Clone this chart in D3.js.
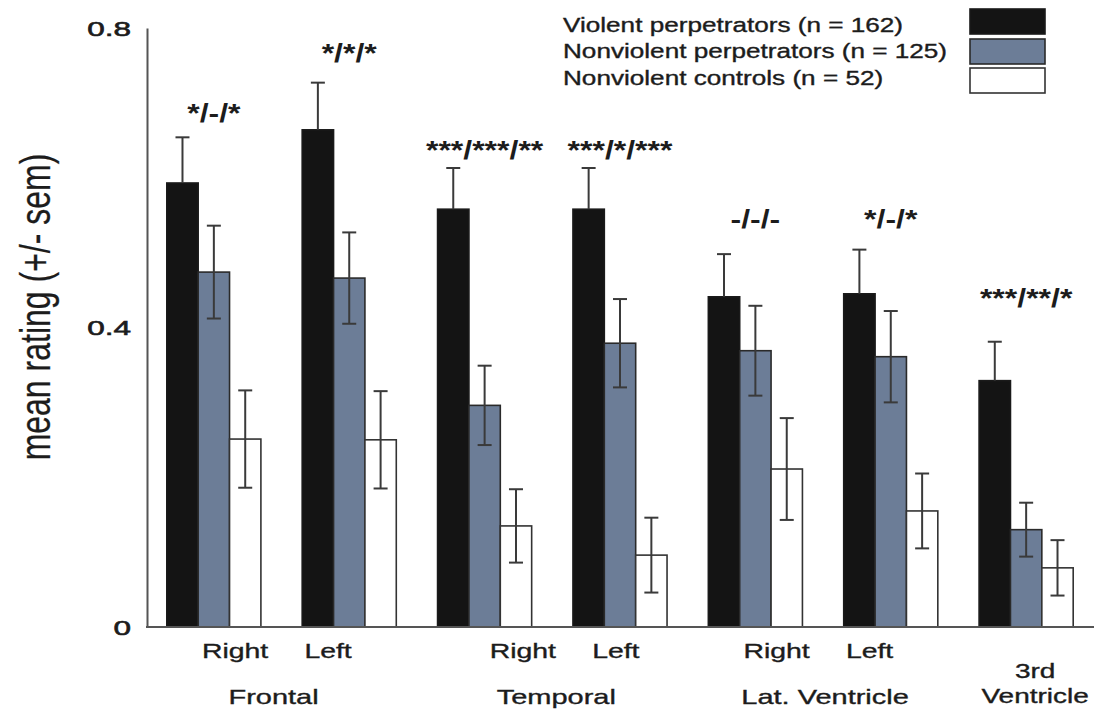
<!DOCTYPE html>
<html><head><meta charset="utf-8">
<script src="https://cdn.jsdelivr.net/npm/d3@7"></script>
<style>html,body{margin:0;padding:0;background:#fff;} svg{display:block;}</style>
</head><body><svg id="chart" width="1094" height="712"></svg>
<script>
// ---- data ----
const groupIds = ["frontal-right","frontal-left","temporal-right","temporal-left","latvent-right","latvent-left","third-vent"];
const regions = ["Frontal","Frontal","Temporal","Temporal","Lat. Ventricle","Lat. Ventricle","3rd Ventricle"];
const sides = ["Right","Left","Right","Left","Right","Left",""];
const seriesNames = ["Violent perpetrators (n = 162)","Nonviolent perpetrators (n = 125)","Nonviolent controls (n = 52)"];
const violentMean = [0.593, 0.664, 0.558, 0.558, 0.441, 0.445, 0.329];
const violentSem  = [0.061, 0.063, 0.055, 0.055, 0.057, 0.059, 0.052];
const nonviolentMean = [0.474, 0.466, 0.296, 0.379, 0.369, 0.361, 0.130];
const nonviolentSem  = [0.062, 0.061, 0.053, 0.059, 0.060, 0.061, 0.036];
const controlMean = [0.251, 0.250, 0.135, 0.096, 0.211, 0.155, 0.079];
const controlSem  = [0.065, 0.065, 0.049, 0.050, 0.068, 0.050, 0.037];
const significance = ["*/-/*","*/*/*","***/***/**","***/*/***","-/-/-","*/-/*","***/**/*"];
const significanceLevel = [0.674, 0.754, 0.625, 0.625, 0.533, 0.533, 0.427];
const yTicks = [0, 0.4, 0.8];
const yTickLabels = ["0", "0.4", "0.8"];
const yTitle = "mean rating (+/- sem)";

// ---- layout / styles ----
const seriesFill = ["#141414", "#6c7d97", "#ffffff"];
const seriesStroke = ["#1a1a1a", "#2a2a2a", "#333333"];
const regionLabelShift = {"Frontal": -8, "Temporal": 4, "Lat. Ventricle": 2, "3rd Ventricle": 9};
const sideLabelShift = {"Frontal": 0, "Temporal": 17, "Lat. Ventricle": 0};
const FONT = "'Liberation Sans', Arial, Helvetica, sans-serif";
const TEXT = "#1c1c1c";

const means = [violentMean, nonviolentMean, controlMean];
const sems = [violentSem, nonviolentSem, controlSem];

const svg = d3.select("#chart");
const y = d3.scaleLinear().domain([0, 0.8]).range([627, 28]);
const x0 = d3.scaleBand().domain(groupIds).range([146.5, 1093.5]).paddingInner(0.305).paddingOuter(0.15);
const x1 = d3.scaleBand().domain(d3.range(seriesNames.length)).range([0, x0.bandwidth()]).padding(0);

function stext(parent, x, yy, str, opts) {
  const o = Object.assign({size: 20, sx: 1.38, anchor: "middle", weight: "normal", rotate: 0, dy: 0, sw: 0.35}, opts || {});
  return parent.append("text")
    .attr("transform", `translate(${x},${yy}) scale(${o.sx},1)` + (o.rotate ? ` rotate(${o.rotate})` : ""))
    .attr("text-anchor", o.anchor)
    .attr("dy", o.dy)
    .attr("font-family", FONT)
    .attr("font-size", o.size)
    .attr("font-weight", o.weight)
    .attr("fill", TEXT)
    .attr("stroke", TEXT)
    .attr("stroke-width", o.sw)
    .text(str);
}

// bars
const rows = groupIds.map((g, i) => ({g, i}));
const groups = svg.append("g").selectAll("g").data(rows).join("g")
  .attr("transform", d => `translate(${x0(d.g)},0)`);

const cells = d => means.map((m, s) => ({s, v: m[d.i], e: sems[s][d.i]}));

groups.selectAll("rect").data(cells).join("rect")
  .attr("x", d => x1(d.s))
  .attr("y", d => y(d.v))
  .attr("width", x1.bandwidth())
  .attr("height", d => y(0) - y(d.v))
  .attr("fill", d => seriesFill[d.s])
  .attr("stroke", d => seriesStroke[d.s])
  .attr("stroke-width", 1.6);

// error bars (lower half of the black bars is hidden inside the bar)
const capW = 14;
const eb = groups.selectAll("g.err").data(cells).join("g")
  .attr("class", "err")
  .attr("transform", d => `translate(${x1(d.s) + x1.bandwidth() / 2},0)`)
  .attr("stroke", "#3a3a3a").attr("stroke-width", 2).attr("fill", "none");
eb.append("line").attr("x1", 0).attr("x2", 0)
  .attr("y1", d => y(d.v + d.e)).attr("y2", d => d.s === 0 ? y(d.v) : y(d.v - d.e));
eb.append("line").attr("x1", -capW / 2).attr("x2", capW / 2).attr("y1", d => y(d.v + d.e)).attr("y2", d => y(d.v + d.e));
eb.filter(d => d.s !== 0).append("line").attr("x1", -capW / 2).attr("x2", capW / 2)
  .attr("y1", d => y(d.v - d.e)).attr("y2", d => y(d.v - d.e));

// significance labels
rows.forEach(d => {
  stext(svg, x0(d.g) + x0.bandwidth() / 2, y(significanceLevel[d.i]), significance[d.i],
    {size: 25, sx: 1.28, weight: "bold", sw: 0});
});

// axes
const yAxis = d3.axisLeft(y).tickValues(yTicks).tickSize(0).tickFormat(() => "");
const ya = svg.append("g").attr("transform", "translate(147,0)").call(yAxis);
ya.select(".domain").attr("stroke", "#555").attr("stroke-width", 2);
const xAxis = d3.axisBottom(x0).tickSize(0).tickFormat(() => "");
const xa = svg.append("g").attr("transform", `translate(0,${y(0)})`).call(xAxis);
xa.select(".domain").attr("stroke", "#555").attr("stroke-width", 2).attr("d", "M146,0H1094");

yTicks.forEach((t, k) => {
  stext(svg, 131, y(t), yTickLabels[k], {size: 21, sx: 1.5, anchor: "end", dy: "0.36em", sw: 0.6});
});

// y title
stext(svg, 50, 307, yTitle, {size: 32, sx: 1.3, rotate: -90, sw: 0.2});

// x labels
function regionCenter(region) {
  const idx = regions.map((r, k) => r === region ? k : -1).filter(k => k >= 0);
  return {idx, c: d3.mean(idx, k => x0(groupIds[k]) + x0.bandwidth() / 2)};
}
rows.forEach(d => {
  if (!sides[d.i]) return;
  const region = regions[d.i];
  const rc = regionCenter(region).c + (sideLabelShift[region] || 0);
  const xx = sides[d.i] === "Right" ? rc - 46.5 : rc + 46.5;
  stext(svg, xx, 658, sides[d.i], {size: 20, sx: 1.42});
});
Array.from(new Set(regions)).forEach(region => {
  const {idx, c} = regionCenter(region);
  const rc = c + (regionLabelShift[region] || 0);
  if (idx.length === 1) {
    const parts = region.split(" ");
    stext(svg, rc, 678, parts[0], {size: 20, sx: 1.4});
    stext(svg, rc, 703, parts.slice(1).join(" "), {size: 20, sx: 1.4});
  } else {
    stext(svg, rc, 704, region, {size: 21, sx: 1.38});
  }
});

// legend
const lgY = [32, 58, 85];
const swY = [9, 39, 68];
seriesNames.forEach((name, s) => {
  stext(svg, 563, lgY[s], name, {size: 19.5, sx: 1.34, anchor: "start"});
  svg.append("rect").attr("x", 970).attr("y", swY[s]).attr("width", 75).attr("height", 25)
    .attr("fill", seriesFill[s]).attr("stroke", seriesStroke[s]).attr("stroke-width", 1.6);
});
</script>
</body></html>
